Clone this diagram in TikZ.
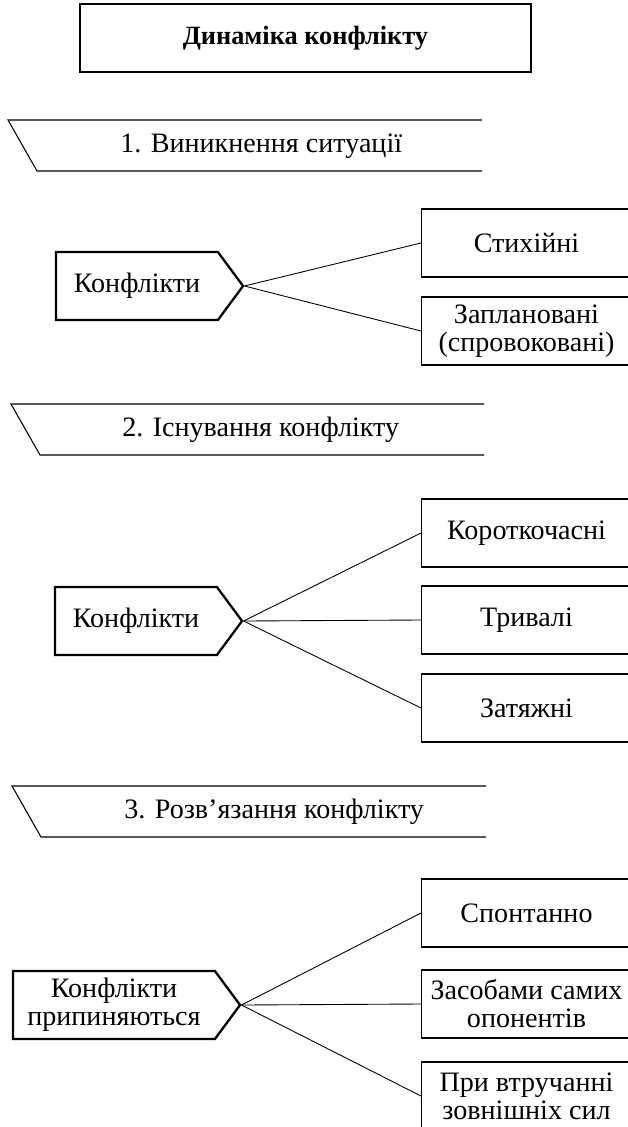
\documentclass[tikz,border=0pt]{standalone}
\usepackage{fontspec}
\setmainfont{Liberation Serif}
\usetikzlibrary{positioning,shapes.symbols}

\begin{document}
\begin{tikzpicture}[
		x=0.02cm, y=-0.02cm,
		font=\fontsize{16}{16}\selectfont,
		header/.style={rectangle, draw, line width=0.7pt, minimum width=9.02cm, minimum height=1.36cm, font=\fontsize{15}{15.5}\selectfont\bfseries},
		stage/.style={anchor=west, inner sep=0pt},
		conflict/.style={signal, signal to=east, signal pointer angle=107, draw, line width=1.3pt, minimum width=3.74cm, minimum height=1.36cm, align=center},
		kind/.style={rectangle, draw, line width=0.6pt, anchor=west, minimum width=4.2cm, minimum height=1.36cm, align=center},
		link/.style={line width=0.5pt},
		]
		\useasboundingbox (0,0) rectangle (628,1127);

		%Title
		\node[header]	(title)	at (305.5,38)	{Динаміка конфлікту};

		%Stage 1
		\node[stage]	(stage_1)	at (120,146)	{1. Виникнення ситуації};
		\draw[line width=0.6pt]	(482,120) -- (8,120) -- (37,171) -- (482,171);
		\node[conflict]	(con_1)		at (137,286)	{Конфлікти};
		\node[kind]		(kind_1a)	at (421,243)	{Стихійні};
		\node[kind]		(kind_1b)	at (421,331)	{Заплановані\\(спровоковані)};
		\draw[link]	(con_1.east) -- (kind_1a.west);
		\draw[link]	(con_1.east) -- (kind_1b.west);

		%Stage 2
		\node[stage]	(stage_2)	at (122,430)	{2. Існування конфлікту};
		\draw[line width=0.6pt]	(484,404) -- (11,404) -- (40,455) -- (484,455);
		\node[conflict]	(con_2)		at (136,621)	{Конфлікти};
		\node[kind]		(kind_2a)	at (421,533)	{Короткочасні};
		\node[kind]		(kind_2b)	at (421,620)	{Тривалі};
		\node[kind]		(kind_2c)	at (421,708)	{Затяжні};
		\draw[link]	(con_2.east) -- (kind_2a.west);
		\draw[link]	(con_2.east) -- (kind_2b.west);
		\draw[link]	(con_2.east) -- (kind_2c.west);

		%Stage 3
		\node[stage]	(stage_3)	at (124,812)	{3. Розв’язання конфлікту};
		\draw[line width=0.6pt]	(486,786) -- (12,786) -- (41,837) -- (486,837);
		\node[conflict, minimum width=4.54cm]	(con_3)	at (114,1005)	{Конфлікти\\припиняються};
		\node[kind]		(kind_3a)	at (421,913)	{Спонтанно};
		\node[kind]		(kind_3b)	at (421,1004)	{Засобами самих\\опонентів};
		\node[kind]		(kind_3c)	at (421,1096)	{При втручанні\\зовнішніх сил};
		\draw[link]	(con_3.east) -- (kind_3a.west);
		\draw[link]	(con_3.east) -- (kind_3b.west);
		\draw[link]	(con_3.east) -- (kind_3c.west);
	\end{tikzpicture}
\end{document}
